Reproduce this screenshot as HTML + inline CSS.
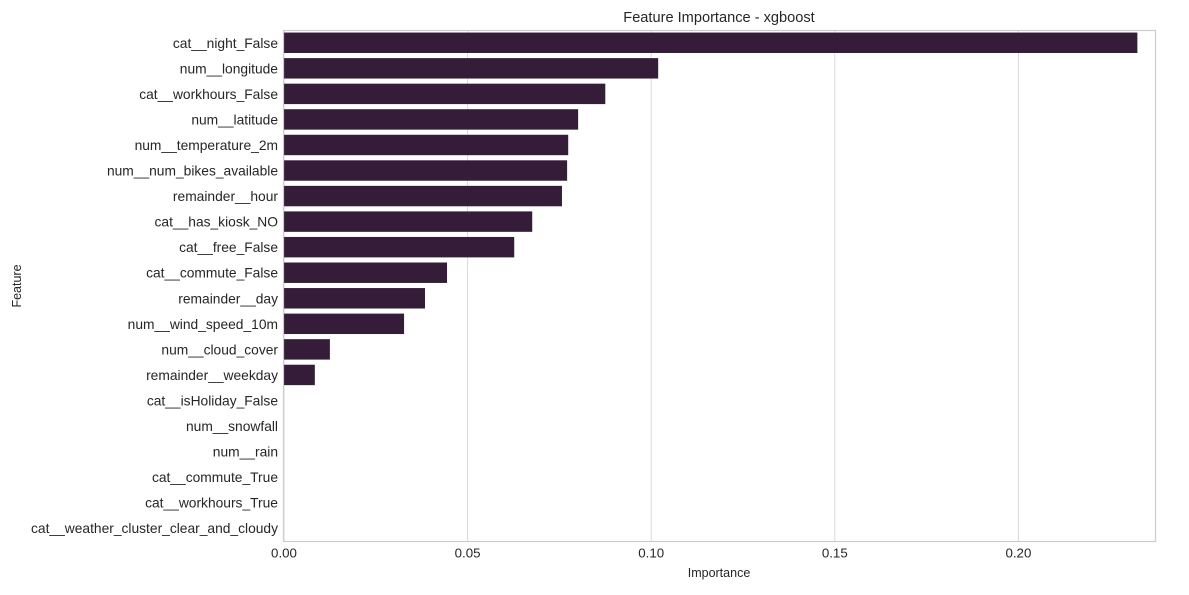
<!DOCTYPE html>
<html><head><meta charset="utf-8"><style>
body{margin:0;background:#fff;font-family:"Liberation Sans","DejaVu Sans",sans-serif;}
svg text{font-family:"Liberation Sans","DejaVu Sans",sans-serif;fill:#262626;}
</style></head><body>
<svg id="chart" width="1189" height="590" xmlns="http://www.w3.org/2000/svg">
<rect width="1189" height="590" fill="#fff"/>
<text x="719" y="22" font-size="14.6" text-anchor="middle">Feature Importance - xgboost</text>
<text x="719" y="577" font-size="12.5" text-anchor="middle">Importance</text>
<text x="21" y="286" font-size="12.5" text-anchor="middle" transform="rotate(-90 21 286)">Feature</text>
<g id="grid"></g><g id="bars"></g><g id="labels"></g>
<rect x="283.5" y="30.5" width="872" height="511" fill="none" stroke="#cccccc" stroke-width="1.2"/>
</svg>
<script>
const categories=["cat__night_False","num__longitude","cat__workhours_False","num__latitude","num__temperature_2m","num__num_bikes_available","remainder__hour","cat__has_kiosk_NO","cat__free_False","cat__commute_False","remainder__day","num__wind_speed_10m","num__cloud_cover","remainder__weekday","cat__isHoliday_False","num__snowfall","num__rain","cat__commute_True","cat__workhours_True","cat__weather_cluster_clear_and_cloudy"];
const importance=[0.2324,0.1019,0.0875,0.0801,0.0774,0.0771,0.0757,0.0676,0.0627,0.0444,0.0384,0.0327,0.0125,0.0084,0,0,0,0,0,0];
const xTicks=[0,0.05,0.10,0.15,0.20];
const xTickLabels=["0.00","0.05","0.10","0.15","0.20"];
const NS="http://www.w3.org/2000/svg";
const L=284,R=1155,T=30,B=541;
const x=v=>L+v*3672;
const band=(B-T)/categories.length;
const y=i=>T+band*i;
function mk(tag,attrs,parent){const e=document.createElementNS(NS,tag);for(const k in attrs)e.setAttribute(k,attrs[k]);parent.appendChild(e);return e;}
const grid=document.getElementById('grid'),bars=document.getElementById('bars'),labels=document.getElementById('labels');
xTicks.forEach((t,i)=>{
 const g=mk('line',{x1:x(t),x2:x(t),y1:T,y2:B,stroke:'#d9d9d9','stroke-width':1},grid);
 
 
 const tx=mk('text',{x:x(t),y:B+16.5,'font-size':13.3,'text-anchor':'middle'},labels);
 tx.textContent=xTickLabels[i];
 
 
});
categories.forEach((c,i)=>{
 const w=x(importance[i])-x(0);
 const r=mk('rect',{x:x(0),y:y(i)+band*0.1,width:Math.max(0,w),height:band*0.8,fill:'#351d3a'},bars);
 
 
 const tx=mk('text',{x:L-6,y:y(i)+band/2+5,'font-size':13.8,'text-anchor':'end'},labels);
 tx.textContent=c;
 
 
});
</script>
</body></html>
